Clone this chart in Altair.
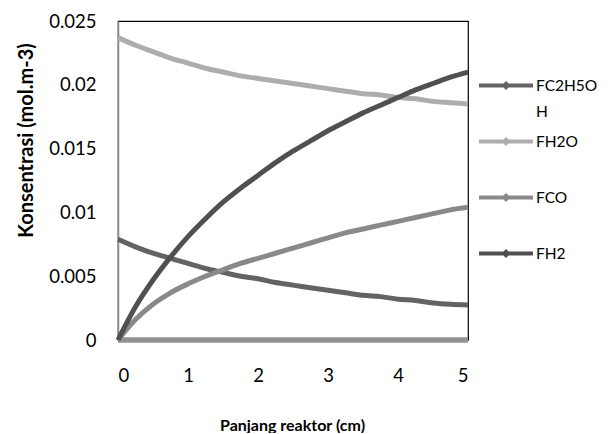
import altair as alt
import pandas as pd

x_vals = [0, 0.25, 0.5, 0.75, 1, 1.25, 1.5, 1.75, 2, 2.25, 2.5, 2.75, 3, 3.25, 3.5, 3.75, 4, 4.25, 4.5, 4.75, 5]
fc2h5oh = [0.0079, 0.0073, 0.0068, 0.0064, 0.0060, 0.0056, 0.0053, 0.0050, 0.0048, 0.0045, 0.0043, 0.0041, 0.0039, 0.0037, 0.0035, 0.0034, 0.0032, 0.0031, 0.0029, 0.0028, 0.00275]
fh2o = [0.0237, 0.0231, 0.0226, 0.0221, 0.0217, 0.0213, 0.0210, 0.0207, 0.0205, 0.0203, 0.0201, 0.0199, 0.0197, 0.0195, 0.0193, 0.0192, 0.0190, 0.0189, 0.0187, 0.0186, 0.0185]
fco = [0, 0.0016, 0.0028, 0.0037, 0.0044, 0.0050, 0.0055, 0.0060, 0.0064, 0.0068, 0.0072, 0.0076, 0.0080, 0.0084, 0.0087, 0.0090, 0.0093, 0.0096, 0.0099, 0.0102, 0.0104]
fh2 = [0, 0.0026, 0.0047, 0.0065, 0.0081, 0.0095, 0.0108, 0.0119, 0.0129, 0.0139, 0.0148, 0.0156, 0.0164, 0.0171, 0.0178, 0.0184, 0.0190, 0.0196, 0.0201, 0.0206, 0.0210]
zero_series = [0] * len(x_vals)

series_names = ["FC2H5OH", "FH2O", "FCO", "FH2"]
series_colors = ["#636363", "#adadad", "#898989", "#505050"]

rows = []
for name, vals in zip(series_names, [fc2h5oh, fh2o, fco, fh2]):
    for xv, yv in zip(x_vals, vals):
        rows.append({"x": xv, "y": yv, "series": name})
df = pd.DataFrame(rows)
df_zero = pd.DataFrame({"x": x_vals, "y": zero_series})

FONT = "Lato"

xenc = alt.X("x:Q", scale=alt.Scale(domain=[0, 5], nice=False),
             axis=alt.Axis(title="Panjang reaktor (cm)", values=[0, 1, 2, 3, 4, 5],
                           grid=False, ticks=False, domain=True, domainColor="#888888",
                           labelPadding=26, labelFontSize=18.5,
                           titleFontSize=16, titleFontWeight="bold", labelColor="#000000",
                           titleColor="#000000", labelFont=FONT, titleFont=FONT,
                           titleBaseline="alphabetic", titleY=90, titleX=174))
yenc = alt.Y("y:Q", scale=alt.Scale(domain=[0, 0.025], nice=False),
             axis=alt.Axis(title="Konsentrasi (mol.m-3)", values=[0, 0.005, 0.01, 0.015, 0.02, 0.025],
                           format="~g", grid=False, ticks=False, domain=True, domainColor="#888888",
                           domainWidth=1.5,
                           labelPadding=22, labelFontSize=18.5,
                           titleFontSize=20, titleFontWeight="bold", labelColor="#000000",
                           titleColor="#000000", labelFont=FONT, titleFont=FONT,
                           titleBaseline="middle", titleX=-92, titleY=119))

zero_layer = alt.Chart(df_zero).mark_line(color="#929292", strokeWidth=5.5).encode(x=xenc, y=yenc)

legend_symbol = "M-1,0H3M1,-0.13L1.13,0L1,0.13L0.87,0Z"

lines = alt.Chart(df).mark_line(strokeWidth=5, interpolate="monotone").encode(
    x=xenc, y=yenc,
    color=alt.Color("series:N", sort=series_names,
                    scale=alt.Scale(domain=series_names, range=series_colors),
                    legend=alt.Legend(title=None, orient="none", legendX=359, legendY=49,
                                      symbolType=legend_symbol, symbolSize=729, symbolStrokeWidth=4,
                                      labelFontSize=15.5, labelFont=FONT, labelColor="#000000",
                                      rowPadding=6, labelOffset=28, gridAlign="all",
                                      labelLimit=200,
                                      labelExpr="datum.label == 'FC2H5OH' ? ['FC2H5O', 'H'] : datum.label")),
    order=alt.Order("x:Q"),
)

chart = alt.layer(zero_layer, lines).properties(
    width=350, height=319,
    padding={"left": 110, "top": 13, "right": 132, "bottom": 93},
    autosize="none",
).configure(
    style={"guide-label": {"lineHeight": 26}}
).configure_view(stroke="#000000", strokeWidth=1.2)

chart.save("out.html", embed_options={"renderer": "svg", "actions": False})
